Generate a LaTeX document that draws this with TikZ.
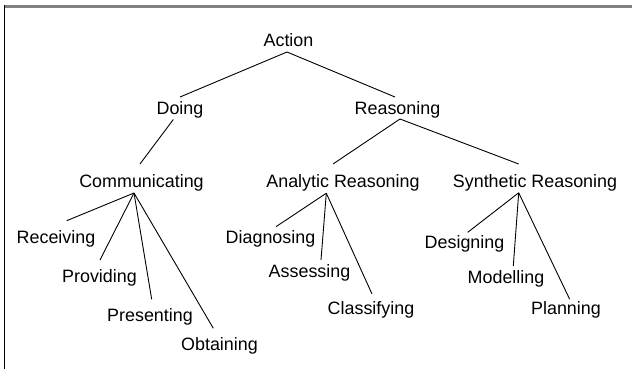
\documentclass[tikz,border=0pt]{standalone}
\usepackage{fontspec}
\setmainfont{Liberation Sans}
\begin{document}
\begin{tikzpicture}[x=1pt,y=-1pt,
  treenode/.style={inner sep=0pt, anchor=base, font=\fontsize{17.9}{20}\selectfont},
  link/.style={draw=black, line width=0.9pt},
  frametop/.style={draw=black!50, line width=2.2pt},
  frameleft/.style={draw=black, line width=1.4pt}]
\useasboundingbox (0,0) rectangle (632,369);
\draw[frametop] (3.8,6.6) -- (632,6.6);
\draw[frameleft] (4.6,5.5) -- (4.6,369);
% nodes
\node[treenode] (action) at (288.5,47) {Action};
\node[treenode] (doing) at (180,114) {Doing};
\node[treenode] (reas) at (397.5,114) {Reasoning};
\node[treenode] (comm) at (141.5,187.5) {Communicating};
\node[treenode] (anal) at (343,187.5) {Analytic Reasoning};
\node[treenode] (synth) at (535,187.5) {Synthetic Reasoning};
\node[treenode] (recv) at (56,243) {Receiving};
\node[treenode] (prov) at (99.5,282) {Providing};
\node[treenode] (pres) at (150,321) {Presenting};
\node[treenode] (obt) at (219.5,350) {Obtaining};
\node[treenode] (diag) at (270.5,243) {Diagnosing};
\node[treenode] (asse) at (309.5,277) {Assessing};
\node[treenode] (clas) at (371,314) {Classifying};
\node[treenode] (desi) at (464.5,248) {Designing};
\node[treenode] (mode) at (506,283) {Modelling};
\node[treenode] (plan) at (566,314) {Planning};
% connectors
\draw[link] ([shift={(-1.5,5)}]action.base) -- ([shift={(0,-17)}]doing.base);
\draw[link] ([shift={(-1.5,5)}]action.base) -- ([shift={(-2.5,-17)}]reas.base);
\draw[link] ([shift={(-6.7,5.5)}]doing.base) -- ([shift={(-1.5,-23.5)}]comm.base);
\draw[link] ([shift={(2.5,5)}]reas.base) -- ([shift={(-10,-23.5)}]anal.base);
\draw[link] ([shift={(2.5,5)}]reas.base) -- ([shift={(-16.3,-23.5)}]synth.base);
\draw[link] ([shift={(-7.5,5.5)}]comm.base) -- ([shift={(10.7,-22.3)}]recv.base);
\draw[link] ([shift={(-7.5,5.5)}]comm.base) -- ([shift={(0.5,-22)}]prov.base);
\draw[link] ([shift={(-7.5,5.5)}]comm.base) -- ([shift={(1.7,-21.7)}]pres.base);
\draw[link] ([shift={(-7.5,5.5)}]comm.base) -- ([shift={(-6.2,-21.7)}]obt.base);
\draw[link] ([shift={(-16.7,5.7)}]anal.base) -- ([shift={(5.5,-16.3)}]diag.base);
\draw[link] ([shift={(-16.7,5.7)}]anal.base) -- ([shift={(11.5,-17)}]asse.base);
\draw[link] ([shift={(-16.7,5.7)}]anal.base) -- ([shift={(1,-20)}]clas.base);
\draw[link] ([shift={(-16.3,5.3)}]synth.base) -- ([shift={(3.2,-15.7)}]desi.base);
\draw[link] ([shift={(-16.3,5.3)}]synth.base) -- ([shift={(7.3,-17)}]mode.base);
\draw[link] ([shift={(-16.3,5.3)}]synth.base) -- ([shift={(3.7,-14.7)}]plan.base);
\end{tikzpicture}
\end{document}
